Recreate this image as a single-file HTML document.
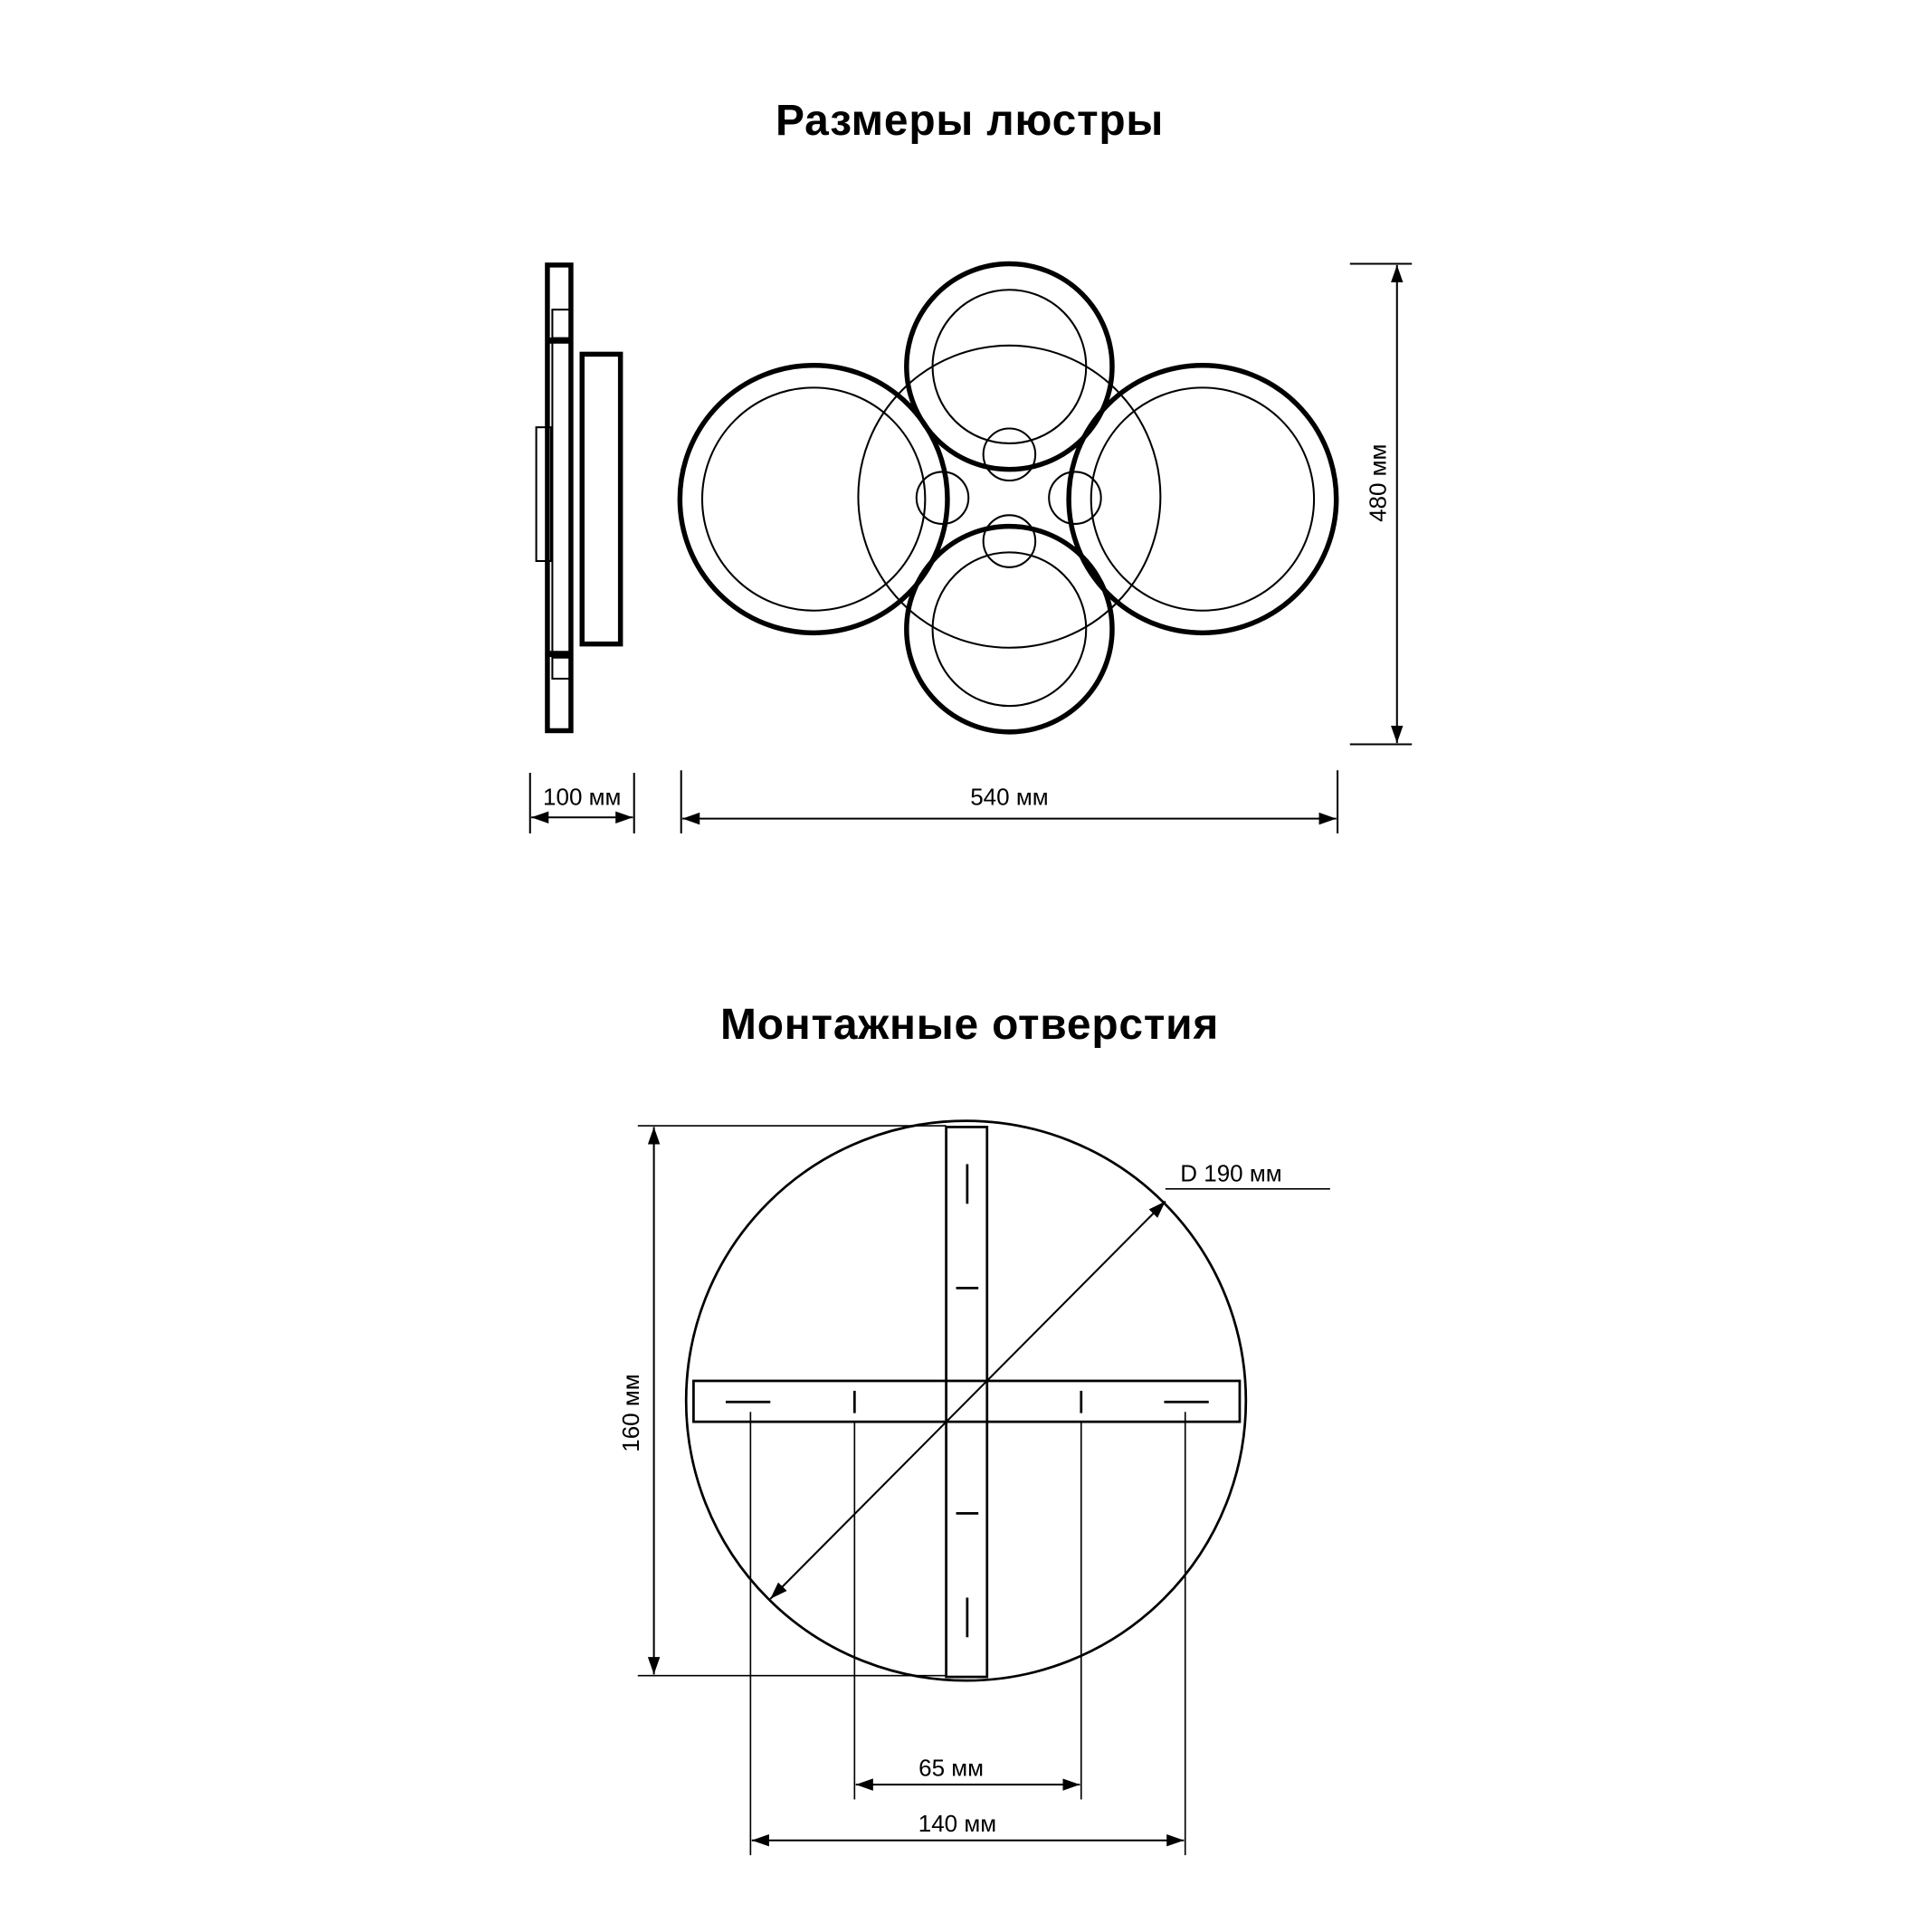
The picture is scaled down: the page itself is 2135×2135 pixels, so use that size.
<!DOCTYPE html>
<html><head><meta charset="utf-8"><style>
html,body{margin:0;padding:0;background:#fff}
svg{display:block}
text{font-family:"Liberation Sans",sans-serif;fill:#000}
</style></head><body>
<svg width="2135" height="2135" viewBox="0 0 1560 1560" xmlns="http://www.w3.org/2000/svg">
<defs>
<marker id="a" viewBox="0 0 10 10" refX="10" refY="5" markerWidth="14" markerHeight="14" markerUnits="userSpaceOnUse" orient="auto-start-reverse"><path d="M0,1.5 L10,5 L0,8.5 z" fill="#000"/></marker>
</defs>
<text x="783" y="109" font-size="35" font-weight="bold" text-anchor="middle" letter-spacing="0.6">Размеры люстры</text>
<text x="783" y="839" font-size="35" font-weight="bold" text-anchor="middle" letter-spacing="0.6">Монтажные отверстия</text>

<g fill="none" stroke="#000">
<rect x="442" y="214" width="19" height="376" stroke-width="4"/>
<line x1="442" y1="275" x2="461" y2="275" stroke-width="5"/>
<line x1="442" y1="528" x2="461" y2="528" stroke-width="5"/>
<rect x="446" y="250" width="15" height="23" stroke-width="1.5"/>
<rect x="446" y="531" width="15" height="17" stroke-width="1.5"/>
<line x1="446" y1="275" x2="446" y2="531" stroke-width="1.5"/>
<rect x="433" y="345" width="12" height="108" stroke-width="1.5"/>
<rect x="470" y="286" width="31" height="234" stroke-width="4"/>

<circle cx="815" cy="401" r="122" stroke-width="1.5"/>
<circle cx="657" cy="403" r="108" stroke-width="4"/>
<circle cx="657" cy="403" r="90" stroke-width="1.5"/>
<circle cx="971" cy="403" r="108" stroke-width="4"/>
<circle cx="971" cy="403" r="90" stroke-width="1.5"/>
<circle cx="815" cy="296" r="83" stroke-width="4"/>
<circle cx="815" cy="296" r="62" stroke-width="1.5"/>
<circle cx="815" cy="508" r="83" stroke-width="4"/>
<circle cx="815" cy="508" r="62" stroke-width="1.5"/>
<circle cx="815" cy="367" r="21" stroke-width="1.5"/>
<circle cx="815" cy="437" r="21" stroke-width="1.5"/>
<circle cx="761" cy="402" r="21" stroke-width="1.5"/>
<circle cx="868" cy="402" r="21" stroke-width="1.5"/>

<line x1="1090" y1="213" x2="1140" y2="213" stroke-width="1.5"/>
<line x1="1090" y1="601" x2="1140" y2="601" stroke-width="1.5"/>
<line x1="1128" y1="214" x2="1128" y2="600" stroke-width="1.5" marker-start="url(#a)" marker-end="url(#a)"/>
<line x1="428" y1="624" x2="428" y2="673" stroke-width="1.5"/>
<line x1="512" y1="624" x2="512" y2="673" stroke-width="1.5"/>
<line x1="429" y1="660" x2="511" y2="660" stroke-width="1.5" marker-start="url(#a)" marker-end="url(#a)"/>
<line x1="550" y1="622" x2="550" y2="673" stroke-width="1.5"/>
<line x1="1080" y1="622" x2="1080" y2="673" stroke-width="1.5"/>
<line x1="551" y1="661" x2="1079" y2="661" stroke-width="1.5" marker-start="url(#a)" marker-end="url(#a)"/>

<circle cx="780" cy="1131" r="226" stroke-width="2"/>
<rect x="764" y="910" width="33" height="444" stroke-width="2"/>
<rect x="560" y="1115" width="441" height="33" stroke-width="2"/>
<line x1="781" y1="940" x2="781" y2="972" stroke-width="2"/>
<line x1="781" y1="1290" x2="781" y2="1322" stroke-width="2"/>
<line x1="772" y1="1040" x2="790" y2="1040" stroke-width="2"/>
<line x1="772" y1="1222" x2="790" y2="1222" stroke-width="2"/>
<line x1="586" y1="1132" x2="622" y2="1132" stroke-width="2"/>
<line x1="940" y1="1132" x2="976" y2="1132" stroke-width="2"/>
<line x1="690" y1="1123" x2="690" y2="1141" stroke-width="2"/>
<line x1="873" y1="1123" x2="873" y2="1141" stroke-width="2"/>
<line x1="622" y1="1291" x2="941" y2="970" stroke-width="1.5" marker-start="url(#a)" marker-end="url(#a)"/>
<line x1="941" y1="960" x2="1074" y2="960" stroke-width="1.2"/>
<line x1="515" y1="909" x2="764" y2="909" stroke-width="1.2"/>
<line x1="515" y1="1353" x2="764" y2="1353" stroke-width="1.2"/>
<line x1="528" y1="910" x2="528" y2="1352" stroke-width="1.5" marker-start="url(#a)" marker-end="url(#a)"/>
<line x1="606" y1="1140" x2="606" y2="1498" stroke-width="1.2"/>
<line x1="957" y1="1140" x2="957" y2="1498" stroke-width="1.2"/>
<line x1="690" y1="1148" x2="690" y2="1453" stroke-width="1.2"/>
<line x1="873" y1="1148" x2="873" y2="1453" stroke-width="1.2"/>
<line x1="691" y1="1441" x2="872" y2="1441" stroke-width="1.5" marker-start="url(#a)" marker-end="url(#a)"/>
<line x1="607" y1="1486" x2="956" y2="1486" stroke-width="1.5" marker-start="url(#a)" marker-end="url(#a)"/>
</g>

<text x="815" y="650" font-size="19" text-anchor="middle">540 мм</text>
<text x="470" y="650" font-size="19" text-anchor="middle">100 мм</text>
<text transform="translate(1119,390) rotate(-90)" font-size="19" text-anchor="middle">480 мм</text>
<text x="953" y="954" font-size="19">D 190 мм</text>
<text transform="translate(516,1141) rotate(-90)" font-size="19" text-anchor="middle">160 мм</text>
<text x="768" y="1434" font-size="19" text-anchor="middle">65 мм</text>
<text x="773" y="1479" font-size="19" text-anchor="middle">140 мм</text>
</svg>
</body></html>
